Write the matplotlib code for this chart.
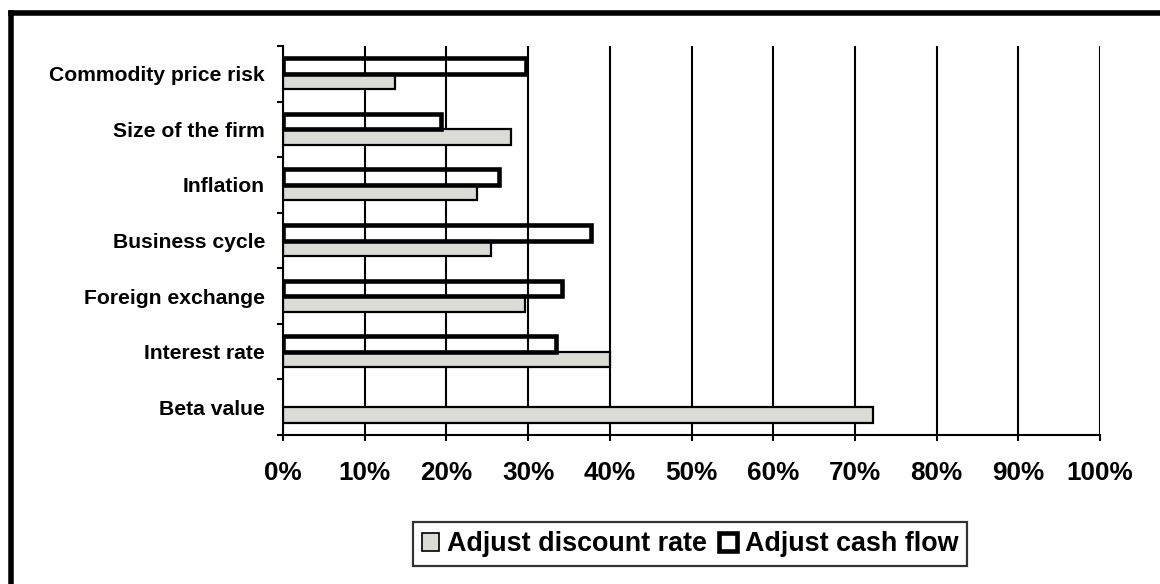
import matplotlib
matplotlib.use("Agg")
import matplotlib.pyplot as plt
from matplotlib.lines import Line2D
from matplotlib.patches import Patch
import numpy as np

plt.rcParams['font.family'] = ['Liberation Sans', 'DejaVu Sans']
plt.rcParams['font.weight'] = 'bold'

# Risk factors, listed top to bottom
categories = ["Commodity price risk", "Size of the firm", "Inflation",
              "Business cycle", "Foreign exchange", "Interest rate", "Beta value"]
adjust_discount_rate = [13.7, 27.9, 23.8, 25.5, 29.6, 40.0, 72.2]
adjust_cash_flow = [29.7, 19.4, 26.4, 37.7, 34.1, 33.4, 0.0]
x_ticks = [0, 10, 20, 30, 40, 50, 60, 70, 80, 90, 100]
x_tick_labels = [f"{t}%" for t in x_ticks]

DISCOUNT_FILL = '#dcdcd6'

W, H = 1160, 584
fig = plt.figure(figsize=(W / 100, H / 100), dpi=100)
ax = fig.add_axes([283 / W, 1 - 435 / H, (1100 - 283) / W, (435 - 46) / H])

n = len(categories)
ypos = np.arange(n)[::-1]  # first category at the top
bar_h = 0.28

ax.barh(ypos - 0.14, adjust_discount_rate, height=bar_h, color=DISCOUNT_FILL,
        edgecolor='black', linewidth=1.6, zorder=3)
cash_bars = ax.barh(ypos + 0.14, adjust_cash_flow, height=bar_h, fill=False,
                    edgecolor='black', linewidth=3.3, zorder=4)
# a zero-length outlined bar would leave a stray edge on the axis
for patch, v in zip(cash_bars.patches, adjust_cash_flow):
    if v == 0:
        patch.set_visible(False)

ax.set_xlim(0, 100)
ax.set_ylim(-0.5, n - 0.5)
ax.set_xticks(x_ticks)
ax.set_xticklabels(x_tick_labels, fontsize=18.8, fontweight='bold')
ax.set_yticks(ypos)
ax.set_yticklabels(categories, fontsize=15.2, fontweight='bold')
ax.set_yticks(np.arange(-0.5, n, 1.0), minor=True)

ax.tick_params(axis='y', which='major', length=0, pad=13)
ax.tick_params(axis='y', which='minor', length=4.5, width=1.5, direction='out')
ax.tick_params(axis='x', which='major', length=4.5, width=1.5, direction='out', pad=14.5)

ax.grid(axis='x', color='black', linewidth=1.5, zorder=1)
ax.set_axisbelow(True)
for side in ('top', 'right'):
    ax.spines[side].set_visible(False)
for side in ('left', 'bottom'):
    ax.spines[side].set_linewidth(1.5)
    ax.spines[side].set_zorder(5)

handles = [Patch(facecolor=DISCOUNT_FILL, edgecolor='black', linewidth=1.2),
           Patch(facecolor='white', edgecolor='black', linewidth=3.3)]
leg = fig.legend(handles, ["Adjust discount rate", "Adjust cash flow"],
                 loc='center', bbox_to_anchor=(690 / W, 1 - 544 / H), ncol=2,
                 prop={'size': 19.4, 'weight': 'bold'}, frameon=True,
                 fancybox=False, shadow=False, handlelength=0.65, handleheight=0.65,
                 handletextpad=0.3, columnspacing=0.45, borderpad=0.32,
                 borderaxespad=0)
leg.get_frame().set_edgecolor('black')
leg.get_frame().set_linewidth(1.6)

# Outer chart frame (left and top edges inside the canvas)
fig.add_artist(Line2D([10.5 / W, 10.5 / W], [0, 1 - 12.5 / H], color='black',
                      linewidth=4, transform=fig.transFigure, solid_capstyle='projecting'))
fig.add_artist(Line2D([10.5 / W, 1], [1 - 12.5 / H, 1 - 12.5 / H], color='black',
                      linewidth=4, transform=fig.transFigure, solid_capstyle='projecting'))

fig.savefig("out.png", dpi=100, facecolor='white')
